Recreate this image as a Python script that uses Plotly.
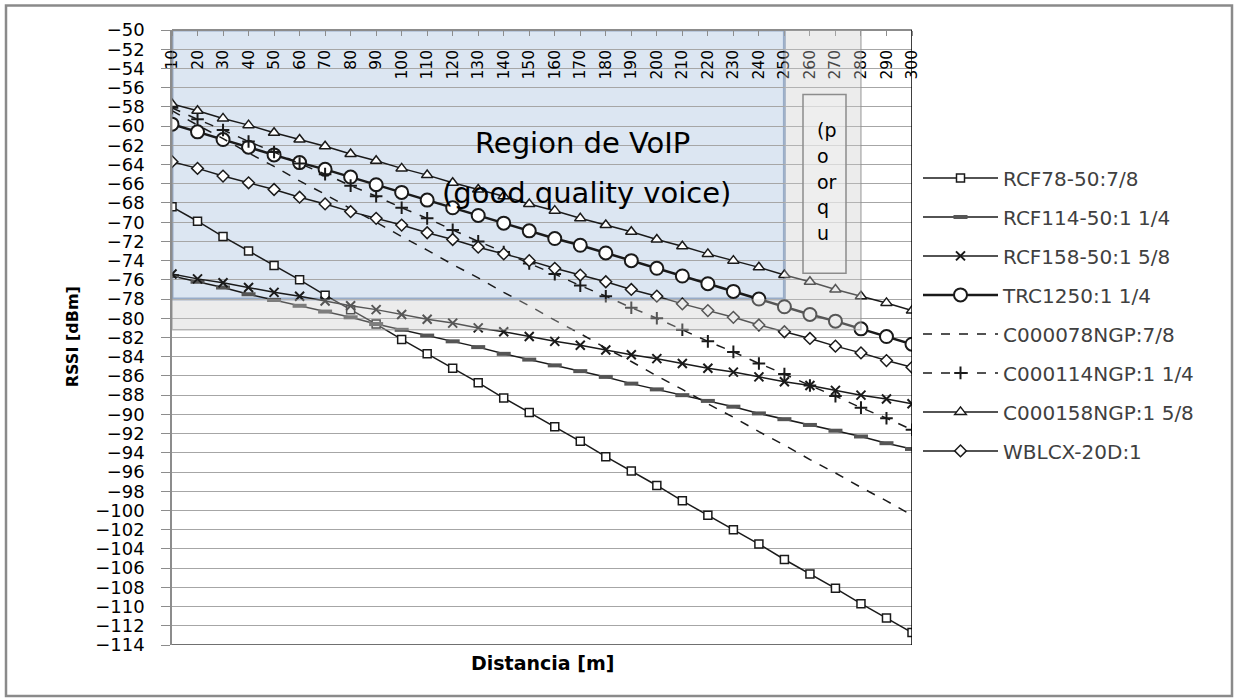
import plotly.graph_objects as go

# distance categories (m)
distancia = list(range(10, 301, 10))

# RSSI [dBm]
rcf78 = [-68.4, -69.9, -71.5, -73.0, -74.5, -76.0, -77.6, -79.1, -80.6, -82.2,
         -83.7, -85.2, -86.7, -88.3, -89.8, -91.3, -92.8, -94.4, -95.9, -97.4,
         -99.0, -100.5, -102.0, -103.5, -105.1, -106.6, -108.1, -109.7, -111.2, -112.7]
rcf114 = [-75.6, -76.2, -76.8, -77.5, -78.1, -78.7, -79.3, -79.9, -80.6, -81.2,
          -81.8, -82.4, -83.0, -83.7, -84.3, -84.9, -85.5, -86.1, -86.8, -87.4,
          -88.0, -88.6, -89.2, -89.9, -90.5, -91.1, -91.7, -92.3, -93.0, -93.6]
rcf158 = [-75.4, -75.9, -76.3, -76.8, -77.3, -77.7, -78.2, -78.7, -79.1, -79.6,
          -80.1, -80.5, -81.0, -81.4, -81.9, -82.4, -82.8, -83.3, -83.8, -84.2,
          -84.7, -85.2, -85.6, -86.1, -86.6, -87.0, -87.5, -88.0, -88.4, -88.9]
trc1250 = [-59.8, -60.6, -61.4, -62.2, -63.0, -63.8, -64.5, -65.3, -66.1, -66.9,
           -67.7, -68.5, -69.3, -70.1, -70.9, -71.7, -72.4, -73.2, -74.0, -74.8,
           -75.6, -76.4, -77.2, -78.0, -78.8, -79.6, -80.3, -81.1, -81.9, -82.7]
c000078 = [-58.4, -59.9, -61.3, -62.8, -64.2, -65.7, -67.1, -68.6, -70.0, -71.5,
           -72.9, -74.4, -75.8, -77.3, -78.7, -80.2, -81.6, -83.1, -84.5, -86.0,
           -87.4, -88.9, -90.3, -91.8, -93.2, -94.7, -96.1, -97.6, -99.0, -100.5]
c000114 = [-58.1, -59.3, -60.4, -61.6, -62.7, -63.9, -65.0, -66.2, -67.3, -68.5,
           -69.6, -70.8, -72.0, -73.1, -74.3, -75.4, -76.6, -77.7, -78.9, -80.0,
           -81.2, -82.4, -83.5, -84.7, -85.8, -87.0, -88.1, -89.3, -90.4, -91.6]
c000158 = [-57.7, -58.4, -59.2, -59.9, -60.7, -61.4, -62.1, -62.9, -63.6, -64.4,
           -65.1, -65.9, -66.6, -67.3, -68.1, -68.8, -69.6, -70.3, -71.0, -71.8,
           -72.5, -73.3, -74.0, -74.7, -75.5, -76.2, -77.0, -77.7, -78.4, -79.2]
wblcx = [-63.7, -64.4, -65.2, -65.9, -66.6, -67.4, -68.1, -68.9, -69.6, -70.3,
         -71.1, -71.8, -72.6, -73.3, -74.0, -74.8, -75.5, -76.2, -77.0, -77.7,
         -78.5, -79.2, -79.9, -80.7, -81.4, -82.1, -82.9, -83.6, -84.4, -85.1]

y_ticks = list(range(-114, -49, 2))

FONT = "'DejaVu Sans', sans-serif"
INK = "#1a1a1a"

series = [
    ("RCF78-50:7/8", rcf78, dict(symbol="square", size=8), dict(width=1.5)),
    ("RCF114-50:1 1/4", rcf114, dict(symbol="line-ew", size=10, line=dict(width=4, color="#555")), dict(width=1.5)),
    ("RCF158-50:1 5/8", rcf158, dict(symbol="x-thin", size=9, line=dict(width=2, color=INK)), dict(width=1.5)),
    ("TRC1250:1 1/4", trc1250, dict(symbol="circle", size=13, line=dict(width=2, color=INK)), dict(width=2.5)),
    ("C000078NGP:7/8", c000078, None, dict(width=1.5, dash="dash")),
    ("C000114NGP:1 1/4", c000114, dict(symbol="cross-thin", size=9, line=dict(width=2, color=INK)), dict(width=1.5, dash="dash")),
    ("C000158NGP:1 5/8", c000158, dict(symbol="triangle-up", size=10), dict(width=1.5)),
    ("WBLCX-20D:1", wblcx, dict(symbol="diamond", size=9), dict(width=1.5)),
]


def dx(px):
    return 10 + (px - 172) / 740 * 290


def dy(py):
    return -50 - (py - 29.5) / 615.5 * 64


fig = go.Figure()
for i, (name, vals, mk, ln) in enumerate(series):
    line = dict(color=INK, **ln)
    if mk is None:
        fig.add_trace(go.Scatter(x=distancia, y=vals, name=name, mode="lines",
                                 line=line, legendgroup=str(i)))
    else:
        marker = dict(color="white", line=dict(width=1.5, color=INK))
        marker.update(mk)
        if mk["symbol"] in ("x-thin", "cross-thin", "line-ew"):
            marker["color"] = INK
        fig.add_trace(go.Scatter(x=distancia, y=vals, name=name, mode="lines+markers",
                                 line=line, marker=marker, legendgroup=str(i)))

shapes = [
    # VoIP region (under grid)
    dict(type="rect", x0=10, x1=250, y0=-78, y1=-50, layer="below",
         fillcolor="#dce6f2", line=dict(color="#98acc8", width=3)),
    # poor region overlay
    dict(type="path", layer="above",
         path="M 250 -50 L 280 -50 L 280 -81.2 L 10 -81.2 L 10 -78 L 250 -78 Z",
         fillcolor="rgba(200,200,200,0.35)", line=dict(width=0)),
    dict(type="rect", x0=10, x1=280, y0=-81.2, y1=-50, layer="above",
         fillcolor="rgba(0,0,0,0)", line=dict(color="rgba(140,140,140,0.6)", width=1.5)),
    dict(type="rect", x0=dx(803), x1=dx(846), y0=dy(273), y1=dy(94), layer="above",
         fillcolor="rgba(240,240,240,0.6)", line=dict(color="#8c8c8c", width=1.5)),
    # frame lines
    dict(type="line", x0=10, x1=300, y0=-114, y1=-114, line=dict(color="#404040", width=1.5)),
    dict(type="line", x0=300, x1=300, y0=-114, y1=-50, line=dict(color="black", width=1.5)),
    # outer border
    dict(type="rect", xref="paper", yref="paper",
         x0=(6 - 172) / 740, x1=(1232 - 172) / 740,
         y0=(645 - 696) / 615.5, y1=(645 - 5) / 615.5,
         line=dict(color="#8a8a8a", width=2.5), fillcolor="rgba(0,0,0,0)"),
]

annotations = [
    dict(x=dx(582), y=dy(143), text="Region de VoIP", showarrow=False,
         font=dict(size=29, color="black", family=FONT)),
    dict(x=dx(586), y=dy(193), text="(good quality voice)", showarrow=False,
         font=dict(size=29, color="black", family=FONT)),
    dict(x=(72 - 172) / 740, y=(645 - 337) / 615.5, xref="paper", yref="paper",
         xanchor="center", yanchor="middle",
         text="<b>RSSI [dBm]</b>", textangle=-90, showarrow=False,
         font=dict(size=16, color="black", family=FONT)),
    dict(x=(542 - 172) / 740, y=(645 - 663) / 615.5, xref="paper", yref="paper",
         xanchor="center", yanchor="middle",
         text="<b>Distancia [m]</b>", showarrow=False,
         font=dict(size=19, color="black", family=FONT)),
]
for txt, py in [("(p", 130), ("o", 156), ("or", 182), ("q", 207), ("u", 233)]:
    annotations.append(dict(x=dx(815), y=dy(py), text=txt, showarrow=False,
                            xanchor="left", yanchor="middle",
                            font=dict(size=19, color="black", family=FONT)))

fig.update_layout(
    width=1237,
    height=700,
    margin=dict(l=172, r=325, t=29.5, b=55),
    paper_bgcolor="white",
    plot_bgcolor="white",
    font=dict(family=FONT, size=17, color="black"),
    shapes=shapes,
    annotations=annotations,
    showlegend=True,
    legend=dict(x=(918 - 172) / 740, y=(645 - 158) / 615.5, xanchor="left", yanchor="top",
                font=dict(size=20, color="#404040", family=FONT),
                itemwidth=75, tracegroupgap=10, bgcolor="rgba(0,0,0,0)"),
    xaxis=dict(range=[10, 300], tickvals=distancia, anchor="free", position=1, side="bottom",
               tickangle=-90, ticks="outside", ticklen=5, tickcolor="#8c8c8c",
               ticklabelstandoff=8,
               showline=True, linecolor="#8c8c8c", linewidth=1.5,
               showgrid=False, zeroline=False,
               tickfont=dict(size=15.5, color="black", family=FONT)),
    yaxis=dict(range=[-114, -50], tickvals=y_ticks, ticks="outside", ticklen=9,
               tickcolor="#8c8c8c", showline=True, linecolor="#8c8c8c", linewidth=1.5,
               ticklabelstandoff=13,
               showgrid=True, gridcolor="#a6a6a6", gridwidth=1, zeroline=False,
               tickfont=dict(size=18, color="black", family=FONT)),
)

fig.write_html("out.html", config={"displayModeBar": False},
               post_script="document.body.style.margin='0';")
